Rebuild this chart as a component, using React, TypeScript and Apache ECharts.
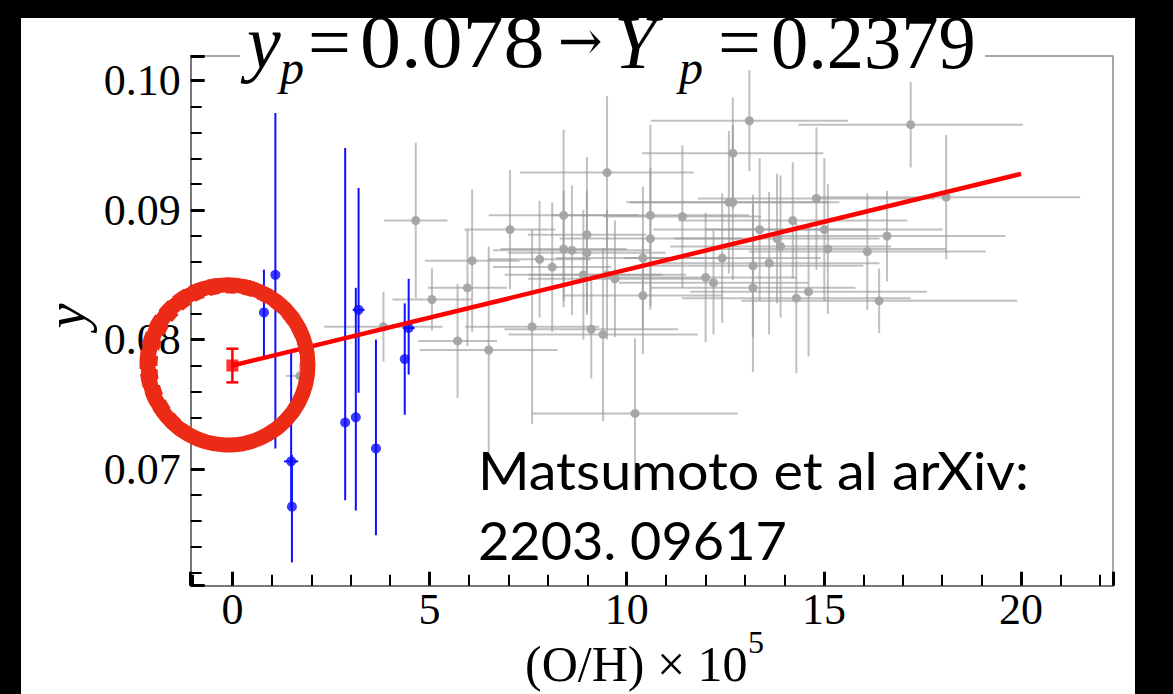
import React, { useEffect, useRef } from "react";
import * as echarts from "echarts";

// ---- data ----
const greyX = [1.71, 3.83, 4.65, 5.06, 5.71, 5.96, 6.08, 6.5, 7.04, 7.6, 7.79, 8.11, 8.4, 8.4, 8.61, 8.9, 8.99, 8.99, 9.1, 9.4, 9.5, 9.5, 9.7, 10.21, 10.41, 10.41, 10.6, 10.6, 11.41, 12.0, 12.2, 12.42, 12.59, 12.69, 12.69, 13.11, 13.2, 13.2, 13.37, 13.61, 13.81, 13.9, 14.21, 14.3, 14.61, 14.81, 15.01, 15.1, 16.1, 16.4, 16.6, 17.2, 18.1];
const greyY = [0.0772, 0.081, 0.0892, 0.0831, 0.0799, 0.084, 0.0861, 0.0792, 0.0885, 0.081, 0.0862, 0.0856, 0.0896, 0.087, 0.0869, 0.085, 0.0881, 0.0867, 0.0808, 0.0804, 0.0929, 0.085, 0.0847, 0.0743, 0.0863, 0.0834, 0.0896, 0.0878, 0.0895, 0.0848, 0.0844, 0.0863, 0.0906, 0.0906, 0.0944, 0.0969, 0.0857, 0.084, 0.0885, 0.0859, 0.0878, 0.0872, 0.0892, 0.0832, 0.0837, 0.0909, 0.0885, 0.087, 0.0868, 0.083, 0.088, 0.0966, 0.091];
const greyXErr = [0.35, 1.5, 0.8, 1.0, 1.0, 1.0, 1.2, 1.75, 1.15, 1.7, 1.3, 1.5, 1.9, 1.6, 2.0, 2.0, 1.5, 2.0, 2.2, 2.4, 2.2, 2.0, 2.2, 2.6, 2.2, 2.0, 2.5, 2.3, 2.0, 2.3, 2.4, 2.5, 2.5, 2.7, 2.3, 2.5, 2.8, 2.6, 2.7, 2.8, 2.6, 2.8, 2.9, 2.9, 3.0, 3.0, 3.0, 3.0, 3.0, 3.5, 3.0, 2.85, 3.4];
const greyYErr = [0.001, 0.0027, 0.006, 0.0024, 0.0044, 0.0045, 0.0055, 0.008, 0.0046, 0.0075, 0.0045, 0.005, 0.0066, 0.0045, 0.005, 0.005, 0.006, 0.0048, 0.0038, 0.0067, 0.0059, 0.005, 0.0045, 0.0058, 0.0055, 0.0045, 0.007, 0.0055, 0.0055, 0.005, 0.004, 0.005, 0.0055, 0.006, 0.0043, 0.0039, 0.0055, 0.0065, 0.0055, 0.0055, 0.005, 0.0055, 0.0045, 0.0058, 0.005, 0.0055, 0.0055, 0.005, 0.0045, 0.0025, 0.0035, 0.0033, 0.0048];

const blueX = [0.8, 1.09, 1.49, 1.51, 2.86, 3.13, 3.2, 3.64, 4.37, 4.47];
const blueY = [0.0821, 0.085, 0.0706, 0.0671, 0.0736, 0.074, 0.0823, 0.0716, 0.0785, 0.0809];
const blueYLow = [0.0787, 0.0716, 0.067, 0.0628, 0.0676, 0.0668, 0.0759, 0.0649, 0.0742, 0.0773];
const blueYHigh = [0.0854, 0.0975, 0.079, 0.0711, 0.0948, 0.084, 0.0917, 0.08, 0.0828, 0.0847];
const blueXErr = [0, 0, 0.18, 0, 0, 0, 0.15, 0, 0, 0.15];

const primX = [0];
const primY = [0.078];
const primYErr = [0.0013];

const fitX = [0, 20];
const fitY = [0.078, 0.0928];

const SERIF = '"Liberation Serif", "Times New Roman", "DejaVu Serif", serif';
const SANS = 'Lato, "Open Sans", "Noto Sans", sans-serif';

function barRenderer(color: string, width: number, cap: number) {
  return (params: any, api: any) => {
    const x = api.value(0);
    const y = api.value(1);
    const xl = api.value(2);
    const xh = api.value(3);
    const yl = api.value(4);
    const yh = api.value(5);
    const style = { stroke: color, lineWidth: width };
    const children: any[] = [];
    if (xh > xl) {
      const a = api.coord([xl, y]);
      const b = api.coord([xh, y]);
      children.push({ type: "line", shape: { x1: a[0], y1: a[1], x2: b[0], y2: b[1] }, style });
    }
    if (yh > yl) {
      const a = api.coord([x, yl]);
      const b = api.coord([x, yh]);
      children.push({ type: "line", shape: { x1: a[0], y1: a[1], x2: b[0], y2: b[1] }, style });
      if (cap > 0) {
        children.push({ type: "line", shape: { x1: a[0] - cap, y1: a[1], x2: a[0] + cap, y2: a[1] }, style });
        children.push({ type: "line", shape: { x1: b[0] - cap, y1: b[1], x2: b[0] + cap, y2: b[1] }, style });
      }
    }
    return { type: "group", children };
  };
}

function txt(text: string, x: number, y: number, font: string, align = "left", extra: any = {}) {
  return {
    type: "text",
    x,
    y,
    z: 60,
    silent: true,
    ...extra,
    style: {
      text,
      font,
      fill: "#000",
      align,
      textAlign: align,
      verticalAlign: "middle",
      textVerticalAlign: "middle",
    },
  };
}

export default function App() {
  const ref = useRef<HTMLDivElement>(null);
  useEffect(() => {
    if (!ref.current) return;
    const chart = echarts.init(ref.current, null, { renderer: "svg" });

    const greyData = greyX.map((x, i) => [x, greyY[i], x - greyXErr[i], x + greyXErr[i], greyY[i] - greyYErr[i], greyY[i] + greyYErr[i]]);
    const blueData = blueX.map((x, i) => [x, blueY[i], x - blueXErr[i], x + blueXErr[i], blueYLow[i], blueYHigh[i]]);
    const primData = primX.map((x, i) => [x, primY[i], x, x, primY[i] - primYErr[i], primY[i] + primYErr[i]]);

    const axisCommon = {
      type: "value",
      splitLine: { show: false },
      axisLine: { show: true, onZero: false, lineStyle: { color: "#777", width: 2 } },
      axisTick: { show: true, inside: true, length: 14, lineStyle: { color: "#000", width: 3 } },
      minorTick: { show: true, splitNumber: 5, length: 11, lineStyle: { color: "#000", width: 2 } },
    };

    const option: any = {
      animation: false,
      backgroundColor: "#000",
      grid: {
        left: 190.7,
        right: 60,
        top: 56,
        bottom: 108.3,
        show: true,
        borderColor: "#8a8a8a",
        borderWidth: 1.5,
        backgroundColor: "transparent",
      },
      xAxis: {
        ...axisCommon,
        min: -1.057,
        max: 22.33,
        minInterval: 5,
        maxInterval: 5,
        axisLabel: {
          fontFamily: SERIF,
          fontSize: 44,
          color: "#000",
          margin: 2,
          showMinLabel: false,
          showMaxLabel: false,
          formatter: (v: number) => String(Math.round(v)),
        },
      },
      yAxis: {
        ...axisCommon,
        min: 0.061,
        max: 0.1019,
        minInterval: 0.01,
        maxInterval: 0.01,
        axisLabel: {
          fontFamily: SERIF,
          fontSize: 44,
          color: "#000",
          margin: 10,
          showMinLabel: false,
          showMaxLabel: false,
          formatter: (v: number) => v.toFixed(2),
        },
      },
      series: [
        {
          type: "custom",
          name: "grey bars",
          data: greyData,
          renderItem: barRenderer("rgba(150,150,150,0.6)", 2, 0),
          encode: { x: 0, y: 1 },
          clip: true,
          z: 2,
          silent: true,
        },
        {
          type: "scatter",
          name: "grey points",
          data: greyX.map((x, i) => [x, greyY[i]]),
          symbolSize: 9,
          itemStyle: { color: "#a3a3a3", opacity: 0.95 },
          z: 3,
          silent: true,
        },
        {
          type: "custom",
          name: "blue bars",
          data: blueData,
          renderItem: barRenderer("#1010ff", 2, 0),
          encode: { x: 0, y: 1 },
          clip: true,
          z: 4,
          silent: true,
        },
        {
          type: "scatter",
          name: "blue points",
          data: blueX.map((x, i) => [x, blueY[i]]),
          symbolSize: 10,
          itemStyle: { color: "#0a0aff" },
          z: 5,
          silent: true,
        },
        {
          type: "line",
          name: "fit",
          data: fitX.map((x, i) => [x, fitY[i]]),
          showSymbol: false,
          symbol: "none",
          lineStyle: { color: "#ff0000", width: 4.5 },
          z: 6,
          silent: true,
        },
        {
          type: "custom",
          name: "primordial bar",
          data: primData,
          renderItem: barRenderer("#ff0000", 2.5, 6),
          encode: { x: 0, y: 1 },
          z: 7,
          silent: true,
        },
        {
          type: "scatter",
          name: "primordial",
          data: primX.map((x, i) => [x, primY[i]]),
          symbol: "rect",
          symbolSize: 12,
          itemStyle: { color: "#ff0000" },
          z: 8,
          silent: true,
        },
      ],
      graphic: [
        { type: "rect", z: -100, silent: true, shape: { x: 21, y: 18, width: 1114, height: 676 }, style: { fill: "#fff" } },
        { type: "rect", z: 50, silent: true, shape: { x: 240, y: 18, width: 745, height: 50 }, style: { fill: "#fff" } },
        // title
        txt("y", 247, 42, `italic 76px ${SERIF}`),
        txt("p", 280, 67, `italic 48px ${SERIF}`),
        txt("=", 308, 42, `76px ${SERIF}`),
        txt("0.078", 360, 42, `76px ${SERIF}`, "left", { scaleX: 1.08 }),
        txt("\u2192", 558, 41, `56px "DejaVu Serif", serif`, "left", { scaleX: 0.95 }),
        txt("Y", 614, 42, `italic 76px ${SERIF}`),
        txt("p", 679, 67, `italic 48px ${SERIF}`),
        txt("=", 718, 42, `76px ${SERIF}`),
        txt("0.2379", 771, 42, `76px ${SERIF}`, "left", { scaleX: 0.98 }),
        // axis names
        txt("(O/H) \u00d7 10", 525, 664, `50px ${SERIF}`),
        txt("5", 748, 642, `32px ${SERIF}`),
        txt("y", 66, 316, `italic 56px ${SERIF}`, "center", { rotation: Math.PI / 2 }),
        // annotation
        txt("Matsumoto et al arXiv:", 478, 470, `52px ${SANS}`, "left", { scaleX: 1.07 }),
        txt("2203. 09617", 478, 540, `52px ${SANS}`, "left", { scaleX: 1.04 }),
        // hand-drawn circle
        { type: "circle", z: 80, silent: true, shape: { cx: 228, cy: 365, r: 80 }, style: { fill: "none", stroke: "#ec2b16", lineWidth: 15 } },
        { type: "ellipse", z: 81, silent: true, shape: { cx: 227, cy: 364, rx: 86, ry: 85 }, style: { fill: "none", stroke: "#ec2b16", lineWidth: 3, lineDash: [14, 5] } },
        { type: "ellipse", z: 81, silent: true, shape: { cx: 229, cy: 366, rx: 73, ry: 74 }, style: { fill: "none", stroke: "#ec2b16", lineWidth: 3, lineDash: [10, 6] } },
      ],
    };

    chart.setOption(option);
    return () => chart.dispose();
  }, []);

  return <div ref={ref} style={{ position: "fixed", left: 0, top: 0, width: 1173, height: 694 }} />;
}
